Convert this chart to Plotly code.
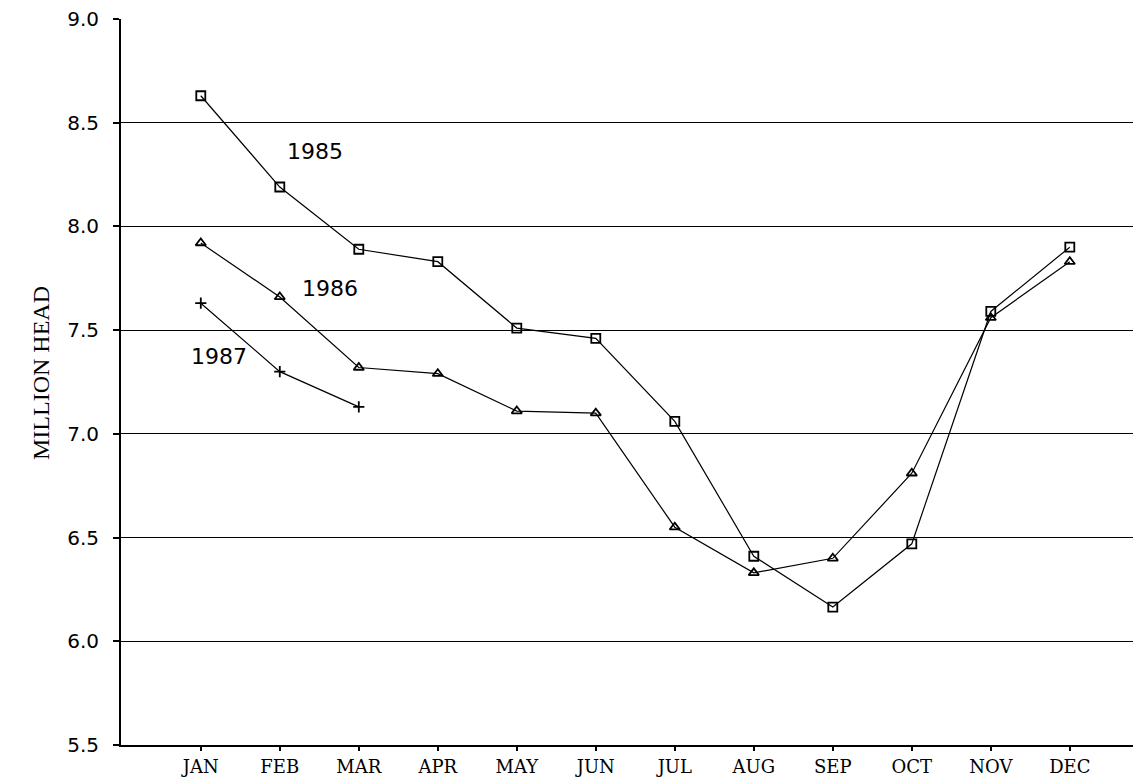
import plotly.graph_objects as go

months = ["JAN", "FEB", "MAR", "APR", "MAY", "JUN", "JUL", "AUG", "SEP", "OCT", "NOV", "DEC"]
y1985 = [8.63, 8.19, 7.89, 7.83, 7.51, 7.46, 7.06, 6.41, 6.165, 6.47, 7.59, 7.90]
y1986 = [7.92, 7.66, 7.32, 7.29, 7.11, 7.10, 6.55, 6.33, 6.40, 6.81, 7.56, 7.83]
y1987 = [7.63, 7.30, 7.13]
yticks = [5.5, 6.0, 6.5, 7.0, 7.5, 8.0, 8.5, 9.0]

xi = list(range(len(months)))

fig = go.Figure()
fig.add_trace(go.Scatter(x=xi, y=y1985, mode="lines+markers",
                         line=dict(color="black", width=1.2),
                         marker=dict(symbol="square-open", size=9, color="black", line=dict(width=1.8))))
fig.add_trace(go.Scatter(x=xi, y=y1986, mode="lines+markers",
                         line=dict(color="black", width=1.2),
                         marker=dict(symbol="triangle-up-open", size=9, color="black", line=dict(width=1.8))))
fig.add_trace(go.Scatter(x=xi[:len(y1987)], y=y1987, mode="lines+markers",
                         line=dict(color="black", width=1.2),
                         marker=dict(symbol="cross-thin-open", size=8, color="black", line=dict(width=1.8, color="black"))))

label_font = dict(family="DejaVu Sans", size=22, color="black")
fig.add_annotation(x=1.44, y=8.36, text="1985", showarrow=False, font=label_font)
fig.add_annotation(x=1.63, y=7.70, text="1986", showarrow=False, font=label_font)
fig.add_annotation(x=0.23, y=7.375, text="1987", showarrow=False, font=label_font)

fig.add_annotation(xref="paper", yref="paper", x=(26 - 121) / 1012, y=(745 - 373) / 726,
                   text="MILLION HEAD", textangle=-90, showarrow=False,
                   font=dict(family="Liberation Serif", size=24, color="black"))

fig.update_layout(
    width=1135, height=778,
    margin=dict(l=121, r=2, t=19, b=33),
    paper_bgcolor="white", plot_bgcolor="white",
    showlegend=False,
    xaxis=dict(range=[-1.01, 11.8], tickvals=xi, ticktext=months, automargin=False,
               showgrid=False, zeroline=False, showline=True, linecolor="black", linewidth=2,
               ticks="outside", ticklen=4, tickcolor="black", tickwidth=1.5,
               ticklabelstandoff=0,
               tickfont=dict(family="DejaVu Serif", size=18, color="black")),
    yaxis=dict(range=[5.5, 9.0], tickvals=yticks, ticktext=[f"{v:.1f}" for v in yticks],
               automargin=False,
               showgrid=True, gridcolor="black", gridwidth=1.3, zeroline=False,
               showline=True, linecolor="black", linewidth=2,
               ticks="outside", ticklen=6, tickcolor="black", tickwidth=1.5,
               ticklabelstandoff=10,
               tickfont=dict(family="DejaVu Sans", size=20, color="black")),
)

fig.write_html("out.html", post_script="document.body.style.margin='0';",
               config={"displayModeBar": False})
